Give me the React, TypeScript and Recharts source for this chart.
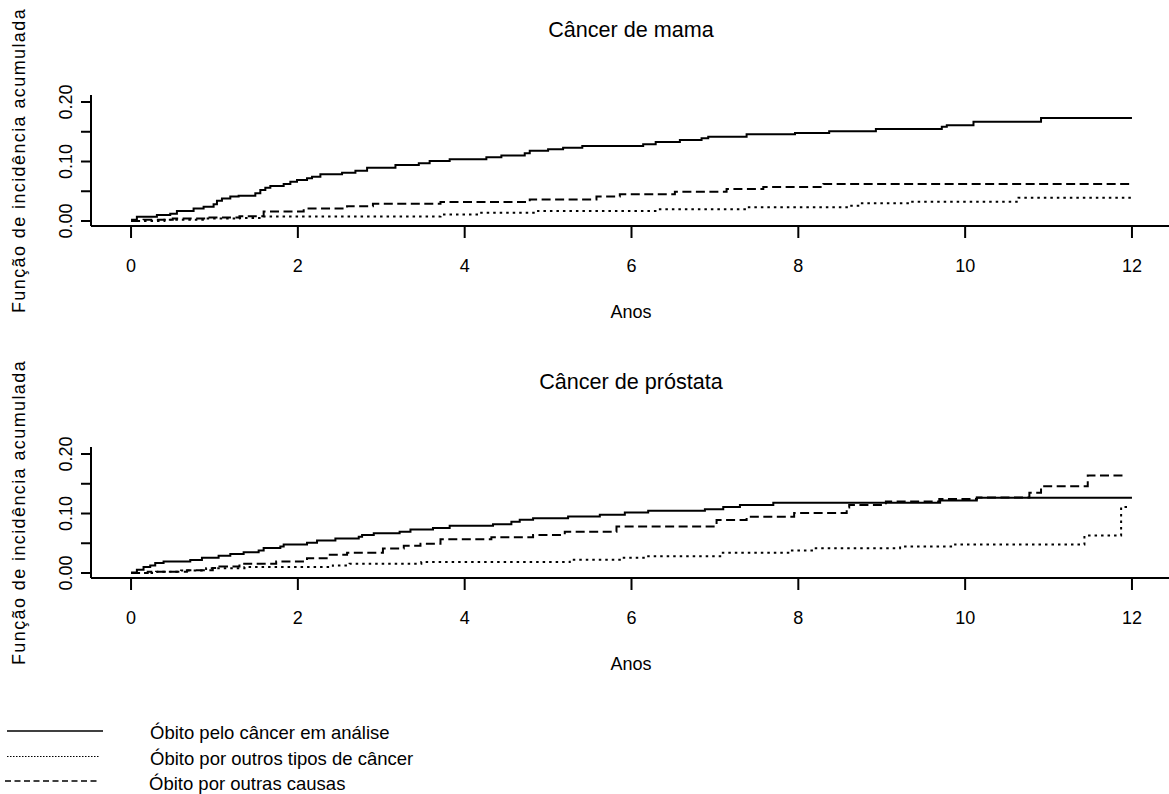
import { LineChart, Line, XAxis, YAxis } from "recharts";

// anos (x) e ticks do eixo y
const years = [0, 2, 4, 6, 8, 10, 12];
const yTicks = [0, 0.05, 0.1, 0.15, 0.2];

// Câncer de mama
const mamaAnaliseT = [0, 0.07, 0.31, 0.47, 0.55, 0.75, 0.87, 0.99, 1.03, 1.09, 1.19, 1.29, 1.49, 1.55, 1.61, 1.67, 1.83, 1.91, 1.99, 2.11, 2.17, 2.27, 2.53, 2.69, 2.83, 3.17, 3.45, 3.58, 3.82, 4.26, 4.44, 4.72, 4.78, 5.0, 5.18, 5.41, 6.14, 6.29, 6.58, 6.84, 6.92, 7.38, 7.96, 8.37, 8.93, 9.72, 9.78, 10.1, 10.91, 12.0];
const mamaAnaliseV = [0.002, 0.007, 0.01, 0.012, 0.017, 0.021, 0.024, 0.028, 0.034, 0.038, 0.041, 0.0425, 0.0465, 0.052, 0.056, 0.059, 0.062, 0.066, 0.069, 0.072, 0.0745, 0.0785, 0.081, 0.0845, 0.0896, 0.094, 0.097, 0.101, 0.104, 0.107, 0.11, 0.114, 0.118, 0.1205, 0.123, 0.126, 0.129, 0.133, 0.136, 0.139, 0.1417, 0.1457, 0.148, 0.151, 0.1546, 0.1585, 0.161, 0.167, 0.173, 0.173];
const mamaOutrosT = [0, 0.4, 0.9, 1.3, 1.59, 3.71, 4.18, 4.88, 6.3, 7.38, 8.6, 8.74, 9.34, 10.64, 12.0];
const mamaOutrosV = [0, 0.002, 0.004, 0.005, 0.0075, 0.011, 0.014, 0.017, 0.0196, 0.023, 0.0257, 0.0297, 0.0325, 0.039, 0.039];
const mamaCausasT = [0, 0.15, 0.5, 0.9, 1.3, 1.59, 2.07, 2.59, 2.9, 3.71, 4.78, 5.58, 5.86, 6.52, 7.14, 7.58, 8.3, 12.0];
const mamaCausasV = [0, 0.002, 0.004, 0.006, 0.008, 0.016, 0.021, 0.025, 0.029, 0.032, 0.036, 0.041, 0.045, 0.049, 0.054, 0.057, 0.062, 0.062];

// Câncer de próstata
const prostAnaliseT = [0, 0.07, 0.15, 0.23, 0.29, 0.39, 0.71, 0.85, 1.05, 1.19, 1.35, 1.53, 1.59, 1.79, 1.83, 2.11, 2.23, 2.45, 2.73, 2.77, 2.91, 3.22, 3.35, 3.62, 3.82, 4.34, 4.56, 4.66, 4.82, 5.24, 5.62, 5.92, 6.2, 6.88, 7.1, 7.3, 7.7, 9.7, 10.14, 12.0];
const prostAnaliseV = [0.001, 0.0056, 0.01, 0.0128, 0.0167, 0.0195, 0.022, 0.0257, 0.029, 0.032, 0.035, 0.038, 0.042, 0.0445, 0.048, 0.051, 0.0545, 0.058, 0.061, 0.064, 0.0667, 0.0695, 0.073, 0.0757, 0.0795, 0.082, 0.086, 0.0895, 0.092, 0.095, 0.098, 0.1017, 0.1045, 0.107, 0.111, 0.1145, 0.118, 0.122, 0.1267, 0.1267];
const prostOutrosT = [0, 0.3, 0.6, 0.9, 1.36, 2.42, 2.62, 3.48, 5.26, 5.86, 6.16, 7.08, 7.9, 8.18, 9.22, 9.88, 11.43, 11.87, 11.97];
const prostOutrosV = [0, 0.002, 0.004, 0.008, 0.01, 0.0128, 0.0157, 0.0183, 0.0223, 0.0257, 0.0283, 0.034, 0.038, 0.0417, 0.0445, 0.048, 0.063, 0.111, 0.111];
const prostCausasT = [0, 0.2, 0.67, 0.98, 1.06, 1.3, 1.74, 2.11, 2.37, 2.59, 3.02, 3.27, 3.47, 3.71, 4.32, 4.82, 5.2, 5.82, 7.02, 7.38, 7.95, 8.58, 8.61, 9.05, 9.69, 10.14, 10.77, 10.91, 11.47, 11.94];
const prostCausasV = [0, 0.002, 0.0045, 0.0083, 0.011, 0.0157, 0.0195, 0.025, 0.0307, 0.034, 0.041, 0.046, 0.049, 0.0567, 0.06, 0.064, 0.0695, 0.078, 0.089, 0.0945, 0.1007, 0.11, 0.1145, 0.12, 0.1245, 0.127, 0.135, 0.146, 0.164, 0.164];

const legendLabels = [
  "Óbito pelo câncer em análise",
  "Óbito por outros tipos de câncer",
  "Óbito por outras causas",
];

const FONT = "'Liberation Sans', Arial, sans-serif";
const INK = "#000";
const DASH = "9 4.5";
const DOT = "2.5 4";

const toPoints = (t: number[], v: number[]) => t.map((x, i) => ({ t: x, v: v[i] }));

const XTick = (props: any) => {
  const { x, y, payload } = props;
  return (
    <text x={x} y={y + 34} textAnchor="middle" fontSize={18} fill={INK} fontFamily={FONT}>
      {payload.value}
    </text>
  );
};

const YTick = (props: any) => {
  const { x, y, payload } = props;
  const v = payload.value as number;
  if (Math.round(v * 100) % 10 !== 0) return <g />;
  return (
    <text
      transform={`translate(${x - 9},${y}) rotate(-90)`}
      textAnchor="middle"
      fontSize={18}
      fill={INK}
      fontFamily={FONT}
    >
      {v.toFixed(2)}
    </text>
  );
};

function Panel({
  top,
  analise,
  outros,
  causas,
}: {
  top: number;
  analise: { t: number; v: number }[];
  outros: { t: number; v: number }[];
  causas: { t: number; v: number }[];
}) {
  return (
    <div style={{ position: "absolute", left: 0, top }}>
      <LineChart width={1200} height={300} margin={{ top: 95, right: 28, bottom: 14, left: 31 }}>
        <XAxis
          dataKey="t"
          type="number"
          domain={[-0.48, 12.48]}
          ticks={years}
          allowDataOverflow
          height={60}
          tickSize={12}
          tickMargin={0}
          axisLine={{ stroke: INK, strokeWidth: 2 }}
          tickLine={{ stroke: INK, strokeWidth: 2 }}
          tick={<XTick />}
        />
        <YAxis
          dataKey="v"
          type="number"
          domain={[-0.0084, 0.2118]}
          ticks={yTicks}
          allowDataOverflow
          width={60}
          tickSize={10}
          tickMargin={0}
          axisLine={{ stroke: INK, strokeWidth: 2 }}
          tickLine={{ stroke: INK, strokeWidth: 2 }}
          tick={<YTick />}
        />
        <Line data={analise} dataKey="v" type="stepAfter" stroke={INK} strokeWidth={2} dot={false} isAnimationActive={false} />
        <Line data={outros} dataKey="v" type="stepAfter" stroke={INK} strokeWidth={2} strokeDasharray={DOT} dot={false} isAnimationActive={false} />
        <Line data={causas} dataKey="v" type="stepAfter" stroke={INK} strokeWidth={2} strokeDasharray={DASH} dot={false} isAnimationActive={false} />
      </LineChart>
    </div>
  );
}

function PanelText({ shift, title }: { shift: number; title: string }) {
  return (
    <g fontFamily={FONT} fill={INK}>
      <text x={631} y={37 + shift} textAnchor="middle" fontSize={21.6}>
        {title}
      </text>
      <text x={631} y={318 + shift} textAnchor="middle" fontSize={18}>
        Anos
      </text>
      <text
        transform={`translate(25,${160.5 + shift}) rotate(-90)`}
        textAnchor="middle"
        fontSize={18}
        letterSpacing={1.4}
      >
        Função de incidência acumulada
      </text>
    </g>
  );
}

export default function App() {
  return (
    <div
      style={{
        position: "absolute",
        left: 0,
        top: 0,
        width: 1169,
        height: 794,
        overflow: "hidden",
        background: "#fff",
      }}
    >
      <Panel
        top={0}
        analise={toPoints(mamaAnaliseT, mamaAnaliseV)}
        outros={toPoints(mamaOutrosT, mamaOutrosV)}
        causas={toPoints(mamaCausasT, mamaCausasV)}
      />
      <Panel
        top={352}
        analise={toPoints(prostAnaliseT, prostAnaliseV)}
        outros={toPoints(prostOutrosT, prostOutrosV)}
        causas={toPoints(prostCausasT, prostCausasV)}
      />
      <svg width={1169} height={794} style={{ position: "absolute", left: 0, top: 0, pointerEvents: "none" }}>
        <PanelText shift={0} title="Câncer de mama" />
        <PanelText shift={352} title="Câncer de próstata" />
        <g stroke={INK} strokeWidth={1.4}>
          <line x1={7} x2={103} y1={731} y2={731} />
          <line x1={7} x2={100} y1={756.5} y2={756.5} strokeDasharray="1.5 1.5" strokeWidth={1.2} />
          <line x1={5} x2={97} y1={781} y2={781} strokeDasharray="6 3.5" />
        </g>
        <g fontFamily={FONT} fill={INK} fontSize={18.5}>
          <text x={150} y={739}>{legendLabels[0]}</text>
          <text x={150} y={765}>{legendLabels[1]}</text>
          <text x={149} y={790}>{legendLabels[2]}</text>
        </g>
      </svg>
    </div>
  );
}
